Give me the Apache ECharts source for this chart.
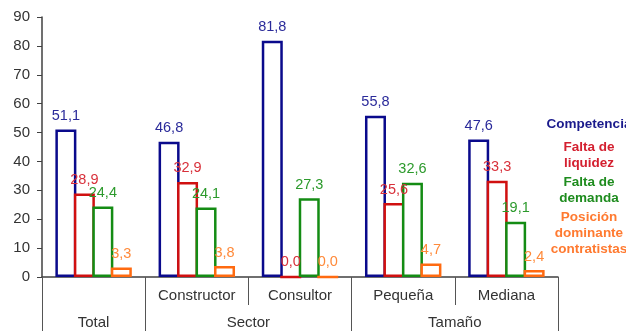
<!DOCTYPE html>
<html>
<head>
<meta charset="utf-8">
<script src="https://cdn.jsdelivr.net/npm/echarts@6/dist/echarts.min.js"></script>
<style>
  html, body { margin: 0; padding: 0; background: #fff; }
  #main { width: 626px; height: 331px; }
</style>
</head>
<body>
<div id="main"></div>
<script>
// datos
var categorias = ['Total', 'Constructor', 'Consultor', 'Pequeña', 'Mediana'];
var competencia = [51.1, 46.8, 81.8, 55.8, 47.6];
var faltaLiquidez = [28.9, 32.9, 0.0, 25.6, 33.3];
var faltaDemanda = [24.4, 24.1, 27.3, 32.6, 19.1];
var posicionDominante = [3.3, 3.8, 0.0, 4.7, 2.4];
var grupos = ['Total', 'Sector', 'Tamaño'];
var grupoCentros = [0.5, 2, 4];
var grupoLimites = [0, 1, 3, 5];
var yTicks = [0, 10, 20, 30, 40, 50, 60, 70, 80, 90];

var nombres = ['Competencia', 'Falta de liquidez', 'Falta de demanda', 'Posición dominante contratistas'];
var lineasLeyenda = [
    ['Competencia'],
    ['Falta de', 'liquidez'],
    ['Falta de', 'demanda'],
    ['Posición', 'dominante', 'contratistas']
];
var colores = ['#0a0a8c', '#d01010', '#148c14', '#ff6a10'];
var coloresEtiqueta = ['#2a2a9a', '#d8303a', '#2c9a2c', '#ff8a3a'];
var coloresLeyenda = ['#1a1a8c', '#d42030', '#1e8c1e', '#ff7a30'];

var myChart = echarts.init(document.getElementById('main'));

function serie(i, datos) {
    return {
        name: nombres[i],
        type: 'bar',
        data: datos,
        barGap: '-12%',
        barWidth: 21,
        itemStyle: {
            color: '#ffffff',
            borderColor: colores[i],
            borderWidth: 2.5
        },
        label: {
            show: true,
            position: 'top',
            distance: 6,
            color: coloresEtiqueta[i],
            fontSize: 14.5,
            fontFamily: 'Liberation Sans',
            formatter: function (p) {
                return p.value.toFixed(1).replace('.', ',');
            }
        }
    };
}

var rich = {};
coloresLeyenda.forEach(function (c, i) {
    rich['c' + i] = {
        color: c,
        width: 96,
        align: 'center',
        fontFamily: 'Liberation Sans',
        fontWeight: 'bold',
        fontSize: 13.5,
        lineHeight: 16,
        padding: i === 0 ? [0, 0, 4, 0] : 0
    };
});

var option = {
    animation: false,
    grid: { left: 42, right: 68, top: 17, bottom: 54 },
    legend: {
        orient: 'vertical',
        left: 536,
        top: 117,
        icon: 'none',
        itemWidth: 0,
        itemHeight: 0,
        itemGap: 5,
        padding: 0,
        selectedMode: false,
        data: nombres,
        formatter: function (n) {
            var i = nombres.indexOf(n);
            return lineasLeyenda[i].map(function (l) {
                return '{c' + i + '|' + l + '}';
            }).join('\n');
        },
        textStyle: { rich: rich, padding: 0 }
    },
    xAxis: [{
        type: 'category',
        data: categorias,
        position: 'bottom',
        axisLine: { lineStyle: { color: '#404040', width: 1.5 } },
        axisTick: { show: true, interval: 0, length: 28, lineStyle: { color: '#555' } },
        axisLabel: {
            interval: 0,
            margin: 11,
            color: '#333',
            fontSize: 15,
            fontFamily: 'Liberation Sans',
            formatter: function (v) { return v === 'Total' ? '' : v; }
        }
    }, {
        type: 'value',
        min: 0,
        max: 5,
        position: 'bottom',
        splitLine: { show: false },
        axisLine: { show: false },
        axisTick: {
            show: true,
            customValues: grupoLimites,
            length: 60,
            lineStyle: { color: '#555' }
        },
        axisLabel: {
            customValues: grupoCentros,
            margin: 38,
            color: '#333',
            fontSize: 15,
            fontFamily: 'Liberation Sans',
            formatter: function (v) {
                return grupos[grupoCentros.indexOf(v)];
            }
        }
    }],
    yAxis: {
        type: 'value',
        min: yTicks[0],
        max: yTicks[yTicks.length - 1],
        interval: 10,
        splitLine: { show: false },
        axisLine: { show: true, lineStyle: { color: '#404040', width: 1.5 } },
        axisTick: { show: true, length: 5, lineStyle: { color: '#404040' } },
        axisLabel: {
            margin: 12,
            color: '#333',
            fontSize: 15,
            fontFamily: 'Liberation Sans'
        }
    },
    series: [
        serie(0, competencia),
        serie(1, faltaLiquidez),
        serie(2, faltaDemanda),
        serie(3, posicionDominante)
    ]
};
myChart.setOption(option);
</script>
</body>
</html>
